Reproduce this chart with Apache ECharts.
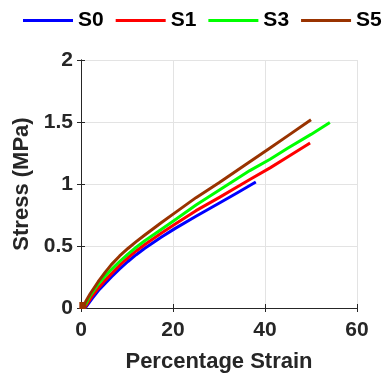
<!DOCTYPE html>
<html><head><meta charset="utf-8">
<script src="https://cdn.jsdelivr.net/npm/echarts@6/dist/echarts.min.js"></script>
<style>html,body{margin:0;padding:0;background:#fff}#c{width:384px;height:378px}</style>
</head><body><div id="c"></div>
<script>
var seriesNames = ['S0', 'S1', 'S3', 'S5'];
var seriesColors = ['#0000ff', '#ff0000', '#00ff00', '#993300'];
var s0 = [[0.9,0],[1.5,0.03],[2.5,0.08],[4,0.15],[5.3,0.2],[6.6,0.25],[8.4,0.315],[10.2,0.375],[12,0.43],[13.8,0.48],[17.5,0.572],[20.4,0.64],[25,0.74],[30,0.845],[34,0.93],[38,1.016]];
var s1 = [[0.7,0],[1.3,0.03],[2.3,0.09],[4,0.17],[5.3,0.225],[6.6,0.275],[8.4,0.345],[10.2,0.405],[12,0.46],[13.8,0.51],[17.5,0.605],[20.4,0.675],[25,0.785],[30,0.89],[36.7,1.036],[41.1,1.13],[45,1.22],[49.8,1.33]];
var s3 = [[0.5,0],[1,0.03],[2,0.1],[3.7,0.19],[5.2,0.255],[6.6,0.31],[8.4,0.375],[10.2,0.435],[12,0.49],[13.8,0.54],[17.5,0.635],[20.4,0.71],[25,0.83],[30,0.95],[36.7,1.108],[41.1,1.2],[45,1.29],[50,1.4],[54.1,1.496]];
var s5 = [[0.4,0.02],[1,0.05],[2,0.115],[3.7,0.21],[5.2,0.285],[6.6,0.35],[8.4,0.42],[10.2,0.48],[12,0.535],[13.8,0.587],[17.5,0.69],[20.4,0.767],[25,0.89],[30,1.01],[36.7,1.18],[41.1,1.29],[45,1.39],[50,1.518]];
var xTicks = [0, 20, 40, 60];
var yTicks = [0, 0.5, 1, 1.5, 2];
var allData = [s0, s1, s3, s5];

var axisColor = '#262626';
var font = 'Liberation Sans, Arial, sans-serif';
var chart = echarts.init(document.getElementById('c'), null, {renderer: 'canvas'});
var series = allData.map(function (d, i) {
  var data = d.map(function (p, j) {
    if (i === 3 && j === 0) return {value: p, symbol: 'rect', symbolSize: 7};
    return p;
  });
  return {
    name: seriesNames[i], type: 'line', data: data, xAxisIndex: 0, yAxisIndex: 0,
    showSymbol: i === 3, symbol: 'none', smooth: false,
    lineStyle: {color: seriesColors[i], width: 3, join: 'round', cap: 'butt'}, itemStyle: {color: seriesColors[i]},
    emphasis: {disabled: true}, animation: false, z: 3 + i
  };
});
chart.setOption({
  animation: false,
  legend: {
    data: seriesNames, left: 18, top: 5, width: 380, icon: 'rect', itemWidth: 50, itemHeight: 3, itemGap: 12,
    textStyle: {fontFamily: font, fontWeight: 'bold', fontSize: 21, color: '#000'}
  },
  grid: {left: 81, right: 27, top: 60, bottom: 69, containLabel: false},
  xAxis: [{
    type: 'value', min: xTicks[0], max: xTicks[xTicks.length - 1], interval: 20,
    name: 'Percentage Strain', nameLocation: 'middle', nameGap: 43,
    nameTextStyle: {fontFamily: font, fontWeight: 'bold', fontSize: 22, color: axisColor},
    axisLine: {show: true, lineStyle: {color: axisColor, width: 1}},
    axisTick: {show: true, inside: true, length: 4, lineStyle: {color: axisColor}},
    axisLabel: {fontFamily: font, fontWeight: 'bold', fontSize: 21, color: axisColor, margin: 12},
    splitLine: {show: true, lineStyle: {color: '#e3e3e3', width: 1}}
  }, {
    type: 'value', position: 'top', min: xTicks[0], max: xTicks[xTicks.length - 1], interval: 20,
    axisLine: {show: true, lineStyle: {color: axisColor, width: 1}},
    axisTick: {show: true, inside: true, length: 4, lineStyle: {color: axisColor}},
    axisLabel: {show: false}, splitLine: {show: false}
  }],
  yAxis: [{
    type: 'value', min: yTicks[0], max: yTicks[yTicks.length - 1], interval: 0.5,
    name: 'Stress (MPa)', nameLocation: 'middle', nameGap: 47,
    nameTextStyle: {fontFamily: font, fontWeight: 'bold', fontSize: 22, color: axisColor},
    axisLine: {show: true, lineStyle: {color: axisColor, width: 1}},
    axisTick: {show: true, inside: true, length: 4, lineStyle: {color: axisColor}},
    axisLabel: {fontFamily: font, fontWeight: 'bold', fontSize: 21, color: axisColor, margin: 8,
      formatter: function (v) { return String(v); }},
    splitLine: {show: true, lineStyle: {color: '#e3e3e3', width: 1}}
  }, {
    type: 'value', position: 'right', min: yTicks[0], max: yTicks[yTicks.length - 1], interval: 0.5,
    axisLine: {show: true, lineStyle: {color: axisColor, width: 1}},
    axisTick: {show: true, inside: true, length: 4, lineStyle: {color: axisColor}},
    axisLabel: {show: false}, splitLine: {show: false}
  }],
  series: series
});
</script></body></html>
